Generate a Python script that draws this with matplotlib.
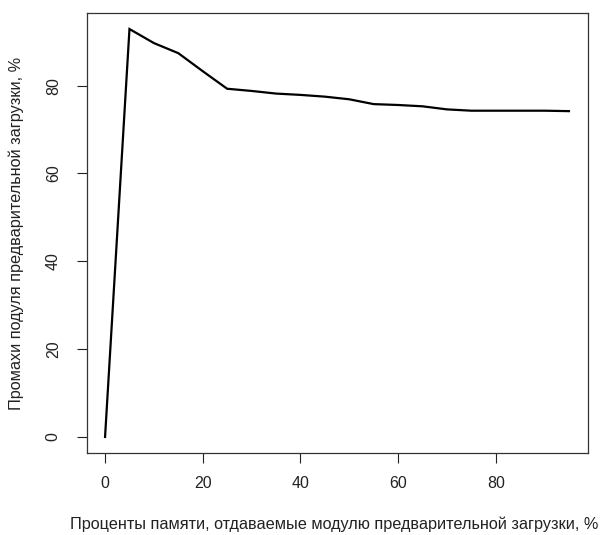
import matplotlib
matplotlib.use("Agg")
import matplotlib.pyplot as plt

memory_pct = [0, 5, 10, 15, 20, 25, 30, 35, 40, 45, 50, 55, 60, 65, 70, 75, 80, 85, 90, 95]
miss_pct = [0, 92.9, 89.7, 87.4, 83.3, 79.3, 78.8, 78.2, 77.9, 77.5, 76.9, 75.8, 75.6, 75.3,
            74.6, 74.3, 74.3, 74.3, 74.3, 74.2]
xticks = [0, 20, 40, 60, 80]
yticks = [0, 20, 40, 60, 80]

plt.rcParams['font.family'] = ['Liberation Sans', 'DejaVu Sans']

W, H = 600, 535
fig = plt.figure(figsize=(W / 100, H / 100), dpi=100)
L, R, T, B = 86.5, 587.5, 12.7, 453.3
ax = fig.add_axes([L / W, 1 - B / H, (R - L) / W, (B - T) / H])

ax.plot(memory_pct, miss_pct, color='black', linewidth=1.6, solid_joinstyle='miter')

xr = max(memory_pct) - min(memory_pct)
yr = max(miss_pct) - min(miss_pct)
ax.set_xlim(min(memory_pct) - 0.04 * xr, max(memory_pct) + 0.04 * xr)
ax.set_ylim(min(miss_pct) - 0.04 * yr, max(miss_pct) + 0.04 * yr)

ax.set_xticks(xticks)
ax.set_yticks(yticks)
ax.set_yticklabels([str(v) for v in yticks], rotation=90, va='center')
ax.tick_params(axis='both', length=7.5, width=0.8, color='#222222', labelsize=11.5,
               labelcolor='#222222', direction='out')
ax.tick_params(axis='x', pad=9)
ax.tick_params(axis='y', pad=11)

for s in ax.spines.values():
    s.set_linewidth(0.9)
    s.set_color('#333333')

ax.set_xlabel('Проценты памяти, отдаваемые модулю предварительной загрузки, %',
              fontsize=11.7, color='#222222')
ax.set_ylabel('Промахи подуля предварительной загрузки, %', fontsize=11.7, color='#222222')
ax.xaxis.set_label_coords((334 - L) / (R - L), -(524 - B) / (B - T), transform=ax.transAxes)
ax.xaxis.label.set_va('center')
ax.yaxis.set_label_coords(-(L - 16.5) / (R - L), 0.5)
ax.yaxis.label.set_va('center')

fig.savefig('out.png', dpi=100)
